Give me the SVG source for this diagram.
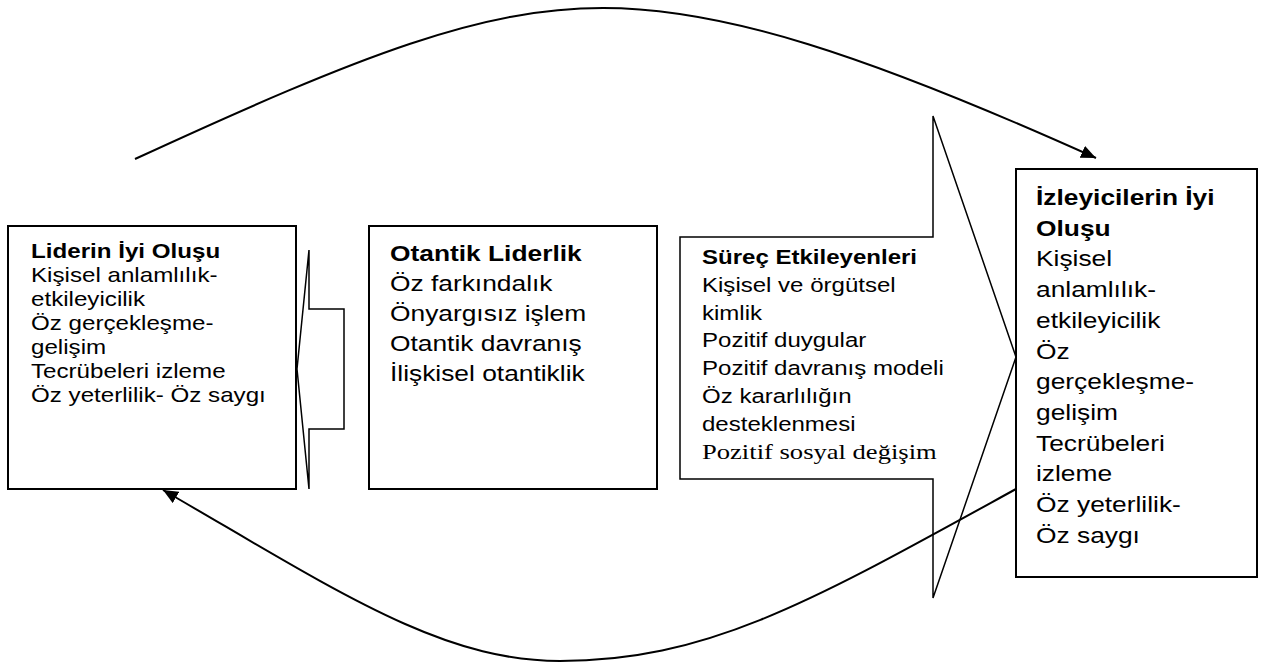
<svg xmlns="http://www.w3.org/2000/svg" width="1269" height="663" viewBox="0 0 1269 663">
<defs>
<marker id="arrow" markerUnits="userSpaceOnUse" markerWidth="15" markerHeight="13" viewBox="0 0 15 13" refX="15" refY="6.5" orient="auto">
<path d="M0,0 L15,6.5 L0,13 z" fill="#000"/>
</marker>
<style>
.box{fill:#fff;stroke:#000;stroke-width:2}
.callout{fill:#fff;stroke:#000;stroke-width:1.5;stroke-linejoin:miter}
.conn{fill:none;stroke:#000;stroke-width:2}
text{font-family:"Liberation Sans",Arial,sans-serif;fill:#000}
.b{font-weight:bold}
.t1{font-size:19.8px}
.t2{font-size:21.6px}
.t3{font-size:19.7px}
.tr{font-family:"Liberation Serif","Times New Roman",serif;font-size:21.8px}
</style>
</defs>
<rect width="1269" height="663" fill="#fff"/>

<g id="callout-left">
<polygon class="callout" points="309,250 309,309 344,309 344,429 309,429 309,489 297,369"/>
</g>

<g id="node-surec">
<polygon class="callout" points="680,237 933,237 933,116 1016,357 933,598 933,479 680,479"/>
<g transform="translate(702,0) scale(1.22,1)">
<text class="t3 b" x="0" y="264">Süreç Etkileyenleri</text>
<text class="t3" x="0" y="292">Kişisel ve örgütsel</text>
<text class="t3" x="0" y="320">kimlik</text>
<text class="t3" x="0" y="347">Pozitif duygular</text>
<text class="t3" x="0" y="375">Pozitif davranış modeli</text>
<text class="t3" x="0" y="403">Öz kararlılığın</text>
<text class="t3" x="0" y="431">desteklenmesi</text>
<text class="tr" x="0" y="459">Pozitif sosyal değişim</text>
</g>
</g>

<g id="node-lider">
<rect class="box" x="8" y="226" width="288" height="263"/>
<g transform="translate(31,0) scale(1.22,1)">
<text class="t1 b" x="0" y="258">Liderin İyi Oluşu</text>
<text class="t1" x="0" y="282">Kişisel anlamlılık-</text>
<text class="t1" x="0" y="306">etkileyicilik</text>
<text class="t1" x="0" y="330">Öz gerçekleşme-</text>
<text class="t1" x="0" y="354">gelişim</text>
<text class="t1" x="0" y="378">Tecrübeleri izleme</text>
<text class="t1" x="0" y="402">Öz yeterlilik- Öz saygı</text>
</g>
</g>

<g id="node-otantik">
<rect class="box" x="369" y="226" width="288" height="263"/>
<g transform="translate(390,0) scale(1.22,1)">
<text class="t2 b" x="0" y="261">Otantik Liderlik</text>
<text class="t2" x="0" y="291">Öz farkındalık</text>
<text class="t2" x="0" y="321">Önyargısız işlem</text>
<text class="t2" x="0" y="351">Otantik davranış</text>
<text class="t2" x="0" y="381">İlişkisel otantiklik</text>
</g>
</g>

<g id="node-izleyici">
<rect class="box" x="1016" y="169" width="241" height="408"/>
<g transform="translate(1036,0) scale(1.22,1)">
<text class="t2 b" x="0" y="205">İzleyicilerin İyi</text>
<text class="t2 b" x="0" y="236">Oluşu</text>
<text class="t2" x="0" y="266">Kişisel</text>
<text class="t2" x="0" y="297">anlamlılık-</text>
<text class="t2" x="0" y="328">etkileyicilik</text>
<text class="t2" x="0" y="359">Öz</text>
<text class="t2" x="0" y="389">gerçekleşme-</text>
<text class="t2" x="0" y="420">gelişim</text>
<text class="t2" x="0" y="451">Tecrübeleri</text>
<text class="t2" x="0" y="481">izleme</text>
<text class="t2" x="0" y="512">Öz yeterlilik-</text>
<text class="t2" x="0" y="543">Öz saygı</text>
</g>
</g>

<g id="connectors">
<path class="conn" d="M135,159 C365,53 483,8 603,8 C723,8 866,54.5 1096,158" marker-end="url(#arrow)"/>
<path class="conn" d="M1016,489 C816,599 710,661 560,661 C440,661 336,590 163,490" marker-end="url(#arrow)"/>
</g>
</svg>
